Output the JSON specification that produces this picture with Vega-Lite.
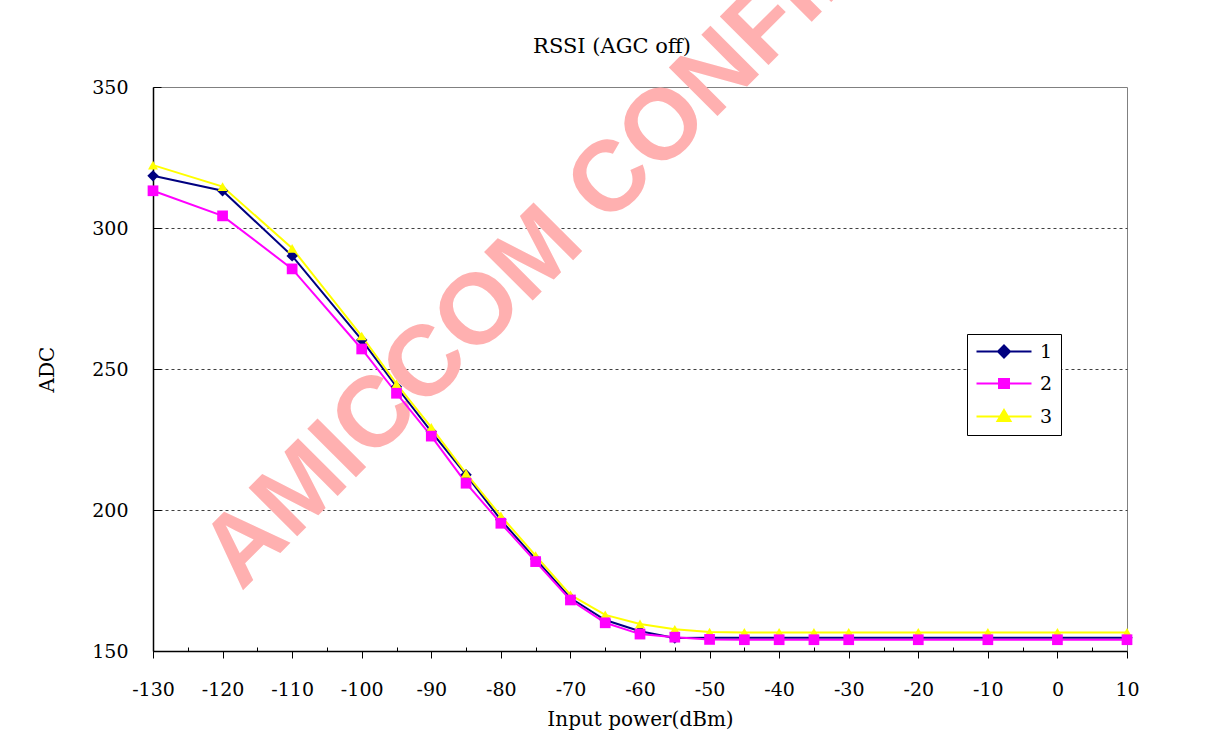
{
  "$schema": "https://vega.github.io/schema/vega-lite/v6.json",
  "width": 974,
  "height": 564,
  "autosize": {"type": "none"},
  "padding": {"left": 153, "top": 87, "right": 79, "bottom": 80},
  "background": "white",
  "config": {
    "view": {"stroke": "#808080", "strokeWidth": 1},
    "font": "DejaVu Serif"
  },
  "title": {"text": "RSSI (AGC off)", "font": "DejaVu Serif", "fontSize": 21, "fontWeight": "normal", "color": "#000000", "offset": -413, "frame": "group", "dx": -28, "anchor": "middle"},
  "datasets": {
    "series": [
      {"x": -130, "s": "1", "m": "d", "v": 318.5}, {"x": -120, "s": "1", "m": "d", "v": 313.2}, {"x": -110, "s": "1", "m": "d", "v": 290.1}, {"x": -100, "s": "1", "m": "d", "v": 260.3},
      {"x": -95, "s": "1", "m": "d", "v": 243.7}, {"x": -90, "s": "1", "m": "d", "v": 227.8}, {"x": -85, "s": "1", "m": "d", "v": 212.5}, {"x": -80, "s": "1", "m": "d", "v": 196.5},
      {"x": -75, "s": "1", "m": "d", "v": 182.6}, {"x": -70, "s": "1", "m": "d", "v": 168.8}, {"x": -65, "s": "1", "m": "d", "v": 161.0}, {"x": -60, "s": "1", "m": "d", "v": 157.0},
      {"x": -55, "s": "1", "m": "d", "v": 154.6}, {"x": -50, "s": "1", "m": "d", "v": 154.7}, {"x": -45, "s": "1", "m": "d", "v": 154.7}, {"x": -40, "s": "1", "m": "d", "v": 154.7},
      {"x": -35, "s": "1", "m": "d", "v": 154.7}, {"x": -30, "s": "1", "m": "d", "v": 154.7}, {"x": -20, "s": "1", "m": "d", "v": 154.7}, {"x": -10, "s": "1", "m": "d", "v": 154.7},
      {"x": 0, "s": "1", "m": "d", "v": 154.7}, {"x": 10, "s": "1", "m": "d", "v": 154.7},
      {"x": -130, "s": "3", "m": "t", "v": 322.3}, {"x": -120, "s": "3", "m": "t", "v": 314.7}, {"x": -110, "s": "3", "m": "t", "v": 292.8}, {"x": -100, "s": "3", "m": "t", "v": 261.7},
      {"x": -95, "s": "3", "m": "t", "v": 244.7}, {"x": -90, "s": "3", "m": "t", "v": 229.3}, {"x": -85, "s": "3", "m": "t", "v": 213.0}, {"x": -80, "s": "3", "m": "t", "v": 197.9},
      {"x": -75, "s": "3", "m": "t", "v": 183.8}, {"x": -70, "s": "3", "m": "t", "v": 169.9}, {"x": -65, "s": "3", "m": "t", "v": 162.8}, {"x": -60, "s": "3", "m": "t", "v": 159.6},
      {"x": -55, "s": "3", "m": "t", "v": 157.7}, {"x": -50, "s": "3", "m": "t", "v": 156.7}, {"x": -45, "s": "3", "m": "t", "v": 156.6}, {"x": -40, "s": "3", "m": "t", "v": 156.6},
      {"x": -35, "s": "3", "m": "t", "v": 156.6}, {"x": -30, "s": "3", "m": "t", "v": 156.6}, {"x": -20, "s": "3", "m": "t", "v": 156.6}, {"x": -10, "s": "3", "m": "t", "v": 156.6},
      {"x": 0, "s": "3", "m": "t", "v": 156.6}, {"x": 10, "s": "3", "m": "t", "v": 156.6},
      {"x": -130, "s": "2", "m": "q", "v": 313.2}, {"x": -120, "s": "2", "m": "q", "v": 304.3}, {"x": -110, "s": "2", "m": "q", "v": 285.5}, {"x": -100, "s": "2", "m": "q", "v": 257.1},
      {"x": -95, "s": "2", "m": "q", "v": 241.4}, {"x": -90, "s": "2", "m": "q", "v": 226.2}, {"x": -85, "s": "2", "m": "q", "v": 209.5}, {"x": -80, "s": "2", "m": "q", "v": 195.3},
      {"x": -75, "s": "2", "m": "q", "v": 181.7}, {"x": -70, "s": "2", "m": "q", "v": 168.1}, {"x": -65, "s": "2", "m": "q", "v": 160.0}, {"x": -60, "s": "2", "m": "q", "v": 156.0},
      {"x": -55, "s": "2", "m": "q", "v": 154.9}, {"x": -50, "s": "2", "m": "q", "v": 154.1}, {"x": -45, "s": "2", "m": "q", "v": 154.0}, {"x": -40, "s": "2", "m": "q", "v": 154.0},
      {"x": -35, "s": "2", "m": "q", "v": 154.0}, {"x": -30, "s": "2", "m": "q", "v": 154.0}, {"x": -20, "s": "2", "m": "q", "v": 154.0}, {"x": -10, "s": "2", "m": "q", "v": 154.0},
      {"x": 0, "s": "2", "m": "q", "v": 154.0}, {"x": 10, "s": "2", "m": "q", "v": 154.0}
    ],
    "watermark": [
      {"x": -117.3, "v": 170.9, "t": "AMICCOM CONFIDENTIAL"}
    ]
  },
  "encoding": {
    "x": {
      "field": "x", "type": "quantitative",
      "scale": {"domain": [-130, 10], "nice": false, "zero": false},
      "axis": {
        "title": "Input power(dBm)",
        "values": [-130, -125, -120, -115, -110, -105, -100, -95, -90, -85, -80, -75, -70, -65, -60, -55, -50, -45, -40, -35, -30, -25, -20, -15, -10, -5, 0, 5, 10],
        "labelExpr": "datum.value % 10 === 0 ? toString(datum.value) : ''",
        "grid": false,
        "domainColor": "#000000", "domainWidth": 1.5,
        "tickColor": "#000000", "tickWidth": 1,
        "tickSize": {"condition": {"test": "datum.value % 10 === 0", "value": 7}, "value": -4},
        "labelFont": "DejaVu Serif", "labelFontSize": 19, "labelColor": "#000000", "labelPadding": 22,
        "labelOverlap": false, "labelFlush": false,
        "titleFont": "DejaVu Serif", "titleFontSize": 20, "titleFontWeight": "normal", "titleColor": "#000000", "titlePadding": 10
      }
    },
    "y": {
      "field": "v", "type": "quantitative",
      "scale": {"domain": [150, 350], "nice": false, "zero": false},
      "axis": {
        "title": "ADC",
        "values": [150, 200, 250, 300, 350],
        "grid": true, "gridDash": [3, 3], "gridColor": "#404040",
        "gridOpacity": {"condition": {"test": "datum.value === 150 || datum.value === 350", "value": 0}, "value": 1},
        "domainColor": "#000000", "domainWidth": 1.5,
        "tickColor": "#000000", "tickSize": -8,
        "labelFont": "DejaVu Serif", "labelFontSize": 19, "labelColor": "#000000", "labelPadding": 33,
        "titleFont": "DejaVu Serif", "titleFontSize": 20, "titleFontWeight": "normal", "titleColor": "#000000", "titlePadding": 34
      }
    }
  },
  "layer": [
    {
      "data": {"name": "watermark"},
      "mark": {"type": "text", "angle": -45, "align": "left", "baseline": "alphabetic", "font": "Liberation Sans", "fontWeight": "bold", "fontSize": 100, "color": "#FFB0B0", "clip": false},
      "encoding": {"text": {"field": "t"}}
    },
    {
      "data": {"name": "series"},
      "mark": {"type": "line", "strokeWidth": 2},
      "encoding": {
        "color": {
          "field": "s", "type": "nominal",
          "scale": {"domain": ["1", "2", "3"], "range": ["#000080", "#FF00FF", "#FFFF00"]},
          "legend": {
            "orient": "none", "legendX": 814, "legendY": 247, "title": null,
            "padding": 8, "strokeColor": "#000000", "fillColor": "#FFFFFF",
            "labelFont": "DejaVu Serif", "labelFontSize": 19, "labelColor": "#000000",
            "symbolSize": 100, "labelOffset": 46, "rowPadding": 12, "symbolStrokeWidth": 2,
            "encode": {
              "symbols": {
                "update": {
                  "shape": {"signal": "datum.value === '1' ? 'M-1.6,0H9.4M3.9,-1.2L5.1,0L3.9,1.2L2.7,0Z' : datum.value === '2' ? 'M-1.6,0H9.4M2.9,-0.9H4.9V0.9H2.9Z' : 'M-1.6,0H9.4M3.9,-1.3L5.2,0.9L2.6,0.9Z'"},
                  "fill": {"signal": "scale('color', datum.value)"},
                  "stroke": {"signal": "scale('color', datum.value)"},
                  "strokeWidth": {"value": 2},
                  "opacity": {"value": 1},
                  "fillOpacity": {"value": 1}
                }
              }
            }
          }
        }
      }
    },
    {
      "data": {"name": "series"},
      "mark": {"type": "point", "filled": true, "opacity": 1},
      "encoding": {
        "color": {"field": "s", "type": "nominal", "legend": null},
        "shape": {"field": "m", "type": "nominal", "scale": {"domain": ["d", "q", "t"], "range": ["diamond", "square", "triangle-up"]}, "legend": null},
        "size": {"field": "m", "type": "nominal", "scale": {"domain": ["d", "q", "t"], "range": [130, 100, 170]}, "legend": null}
      }
    }
  ]
}
